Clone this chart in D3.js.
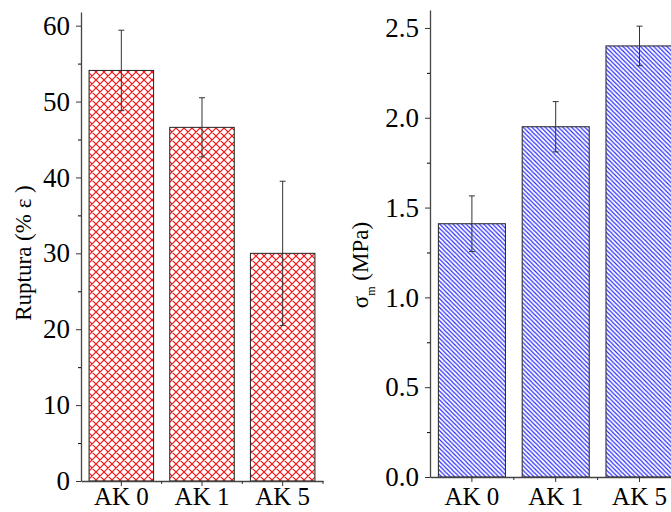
<!DOCTYPE html>
<html>
<head>
<meta charset="utf-8">
<script src="https://cdn.jsdelivr.net/npm/d3@7"></script>
<style>
  body { margin: 0; background: #fff; }
  .tick text { font-family: "Liberation Serif", "Times New Roman", serif; }
</style>
</head>
<body>
<div id="chart-area"></div>
<script>
// categories shared by both panels
var categories = ["AK 0", "AK 1", "AK 5"];

// left panel: Ruptura (% e)
var ruptura = [54.1, 46.6, 30.0];
var rupturaErr = [5.3, 3.9, 9.5];
var leftTicks = [0, 10, 20, 30, 40, 50, 60];

// right panel: sigma_m (MPa)
var sigma = [1.41, 1.95, 2.40];
var sigmaErr = [0.155, 0.14, 0.11];
var rightTicks = [0.0, 0.5, 1.0, 1.5, 2.0, 2.5];

var W = 671, H = 512;

var svg = d3.select("#chart-area").append("svg")
  .attr("width", W)
  .attr("height", H);

var defs = svg.append("defs");

// red cross hatch
var s1 = 8;
var p1 = defs.append("pattern")
  .attr("id", "hatchRed")
  .attr("patternUnits", "userSpaceOnUse")
  .attr("width", s1)
  .attr("height", s1);
p1.append("rect").attr("width", s1).attr("height", s1).attr("fill", "#fff");
p1.append("path")
  .attr("d", "M0,0L8,8M8,0L0,8M-1,7L1,9M7,-1L9,1M-1,1L1,-1M7,9L9,7")
  .attr("stroke", "#ff1010")
  .attr("stroke-width", 1.2);

// blue diagonal lines
var s2 = 4.4;
var p2 = defs.append("pattern")
  .attr("id", "hatchBlue")
  .attr("patternUnits", "userSpaceOnUse")
  .attr("width", s2)
  .attr("height", s2);
p2.append("rect").attr("width", s2).attr("height", s2).attr("fill", "#fff");
p2.append("path")
  .attr("d", "M0,0L" + s2 + "," + s2 + "M-1," + (s2 - 1) + "L1," + (s2 + 1) + "M" + (s2 - 1) + ",-1L" + (s2 + 1) + ",1")
  .attr("stroke", "#2424ff")
  .attr("stroke-width", 1.1);

function drawPanel(cfg) {
  var x = d3.scaleBand()
    .domain(categories)
    .range(cfg.xRange)
    .paddingInner(0.2)
    .paddingOuter(0.1);

  var y = d3.scaleLinear()
    .domain(cfg.yDomain)
    .range(cfg.yRange);

  var g = svg.append("g");

  // bars
  g.selectAll("rect.bar")
    .data(cfg.values)
    .enter().append("rect")
    .attr("class", "bar")
    .attr("x", (d, i) => x(categories[i]))
    .attr("y", d => y(d))
    .attr("width", x.bandwidth())
    .attr("height", d => y(0) - y(d))
    .attr("fill", "url(#" + cfg.pattern + ")")
    .attr("stroke", "#222")
    .attr("stroke-width", 1);

  // error bars
  var eb = g.selectAll("g.err")
    .data(cfg.values)
    .enter().append("g")
    .attr("class", "err")
    .attr("stroke", "#333")
    .attr("stroke-width", 1);

  var cx = (i) => x(categories[i]) + x.bandwidth() / 2;

  eb.append("line")
    .attr("x1", (d, i) => cx(i))
    .attr("x2", (d, i) => cx(i))
    .attr("y1", (d, i) => y(d + cfg.errors[i]))
    .attr("y2", (d, i) => y(d - cfg.errors[i]));
  eb.append("line")
    .attr("x1", (d, i) => cx(i) - 3)
    .attr("x2", (d, i) => cx(i) + 3)
    .attr("y1", (d, i) => y(d + cfg.errors[i]))
    .attr("y2", (d, i) => y(d + cfg.errors[i]));
  eb.append("line")
    .attr("x1", (d, i) => cx(i) - 3)
    .attr("x2", (d, i) => cx(i) + 3)
    .attr("y1", (d, i) => y(d - cfg.errors[i]))
    .attr("y2", (d, i) => y(d - cfg.errors[i]));

  // y axis, major
  var yAxis = d3.axisLeft(y)
    .tickValues(cfg.ticks)
    .tickFormat(cfg.format)
    .tickSize(5)
    .tickPadding(6)
    .tickSizeOuter(0);

  var yg = g.append("g")
    .attr("transform", "translate(" + cfg.xRange[0] + ",0)")
    .call(yAxis);

  // y axis, minor
  var minors = cfg.ticks.slice(0, -1).map((t, i) => (t + cfg.ticks[i + 1]) / 2);
  g.append("g")
    .attr("transform", "translate(" + cfg.xRange[0] + ",0)")
    .call(d3.axisLeft(y).tickValues(minors).tickSize(3).tickFormat("").tickSizeOuter(0))
    .select(".domain").remove();

  // x axis
  var xAxis = d3.axisBottom(x)
    .tickSize(5)
    .tickPadding(cfg.xPad)
    .tickSizeOuter(0);

  var xg = g.append("g")
    .attr("transform", "translate(0," + y(0) + ")")
    .call(xAxis);

  // x minor ticks between the groups
  var step = x.step();
  var bounds = d3.range(1, categories.length + 1).map(i => cfg.xRange[0] + i * step);
  g.selectAll("line.xminor")
    .data(bounds)
    .enter().append("line")
    .attr("class", "xminor")
    .attr("x1", d => d).attr("x2", d => d)
    .attr("y1", y(0)).attr("y2", y(0) + 3)
    .attr("stroke", "#333");

  yg.selectAll(".tick text").style("font-size", "27px");
  xg.selectAll(".tick text").style("font-size", "25px");
  [yg, xg].forEach(function(a) {
    a.selectAll(".domain").attr("stroke", "#444").attr("stroke-width", 1.3);
    a.selectAll(".tick line").attr("stroke", "#333");
    a.selectAll(".tick text").attr("fill", "#000");
  });

  // axis title
  var lab = g.append("text")
    .attr("transform", "translate(" + cfg.labelX + "," + cfg.labelY + ") rotate(-90)")
    .attr("text-anchor", "middle")
    .style("font-family", "'Liberation Serif', 'Times New Roman', serif")
    .style("font-size", cfg.labelSize)
    .attr("fill", "#000");
  cfg.label(lab);
}

drawPanel({
  xRange: [81, 323],
  yRange: [481, 12],
  yDomain: [0, 61.8],
  values: ruptura,
  errors: rupturaErr,
  ticks: leftTicks,
  format: d3.format("d"),
  pattern: "hatchRed",
  xPad: 1,
  labelX: 31,
  labelY: 253,
  labelSize: "23px",
  label: function(t) { t.text("Ruptura (% \u03b5 )"); }
});

drawPanel({
  xRange: [430, 681.4],
  yRange: [477, 10],
  yDomain: [0, 2.6],
  values: sigma,
  errors: sigmaErr,
  ticks: rightTicks,
  format: d3.format(".1f"),
  pattern: "hatchBlue",
  xPad: 5,
  labelX: 368,
  labelY: 265,
  labelSize: "23px",
  label: function(t) {
    t.append("tspan").text("\u03c3");
    t.append("tspan").attr("dy", 7).style("font-size", "12px").text("m");
    t.append("tspan").attr("dy", -7).text(" (MPa)");
  }
});
</script>
</body>
</html>
